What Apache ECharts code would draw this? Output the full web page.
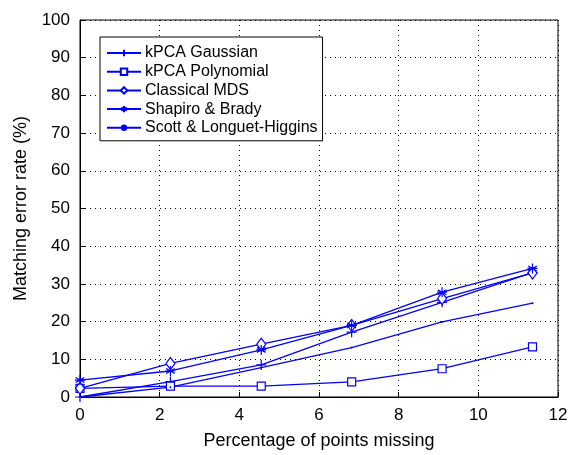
<!DOCTYPE html>
<html><head><meta charset="utf-8">
<script src="https://cdn.jsdelivr.net/npm/echarts@6/dist/echarts.min.js"></script>
<style>html,body{margin:0;padding:0;background:#fff}#c{width:571px;height:455px}</style>
</head><body><div id="c"></div>
<script>
const xValues = [0, 2.27, 4.55, 6.82, 9.09, 11.36];
const kpcaGaussian = [0, 4.1, 8.5, 17.2, 25.1, 33.0];
const kpcaPolynomial = [2.3, 2.9, 2.9, 4.0, 7.5, 13.3];
const classicalMDS = [2.3, 8.9, 14.0, 19.0, 26.1, 32.9];
const shapiroBrady = [4.5, 6.9, 12.5, 19.0, 27.8, 34.1];
const scottLH = [0, 2.6, 7.8, 13.1, 19.9, 24.9];
const seriesNames = ['kPCA Gaussian','kPCA Polynomial','Classical MDS','Shapiro & Brady','Scott & Longuet-Higgins'];

const blue = '#0000ff';
const font = '"Liberation Sans", Arial, Helvetica, sans-serif';
function pts(ys){ return xValues.map((x,i)=>[x, ys[i]]); }
function mk(name, ys, symbol, size){
  return {
    name, type:'line', data: pts(ys), symbol, symbolSize: size, showSymbol:true,
    lineStyle:{color:blue, width:1.3}, itemStyle:{color:'#fff', borderColor:blue, borderWidth:1.2},
    emphasis:{disabled:true}, animation:false
  };
}
const chart = echarts.init(document.getElementById('c'));
chart.setOption({
  animation:false,
  grid:{left:80, right:13, top:20, bottom:58, show:true, borderColor:'#000', borderWidth:1, backgroundColor:'transparent'},
  legend:{
    orient:'vertical', left:100, top:37, padding:[8,5,5,6], itemGap:2.7, itemWidth:34, itemHeight:8,
    borderColor:'#000', borderWidth:1, backgroundColor:'#fff',
    textStyle:{fontFamily:font, fontSize:16, color:'#000', padding:[0,0,0,-1]},
    data: seriesNames
  },
  xAxis:{
    type:'value', min:0, max:12, interval:2,
    name:'Percentage of points missing', nameLocation:'middle', nameGap:35,
    nameTextStyle:{fontFamily:font, fontSize:18, color:'#000'},
    axisLine:{lineStyle:{color:'#000'}}, axisTick:{inside:true, length:5, lineStyle:{color:'#000'}},
    axisLabel:{fontFamily:font, fontSize:17, color:'#000', margin:10},
    splitLine:{show:true, lineStyle:{color:'#000', type:[1,4], width:1}}
  },
  yAxis:{
    type:'value', min:0, max:100, interval:10,
    name:'Matching error rate (%)', nameLocation:'middle', nameGap:50,
    nameTextStyle:{fontFamily:font, fontSize:18, color:'#000'},
    axisLine:{show:true, lineStyle:{color:'#000'}}, axisTick:{show:true, inside:true, length:5, lineStyle:{color:'#000'}},
    axisLabel:{fontFamily:font, fontSize:17, color:'#000', margin:10},
    splitLine:{show:true, lineStyle:{color:'#000', type:[1,4], width:1}}
  },
  series:[
    mk(seriesNames[0], kpcaGaussian, 'path://M0,-1L0,1M-1,0L1,0', 10),
    mk(seriesNames[1], kpcaPolynomial, 'rect', 8),
    mk(seriesNames[2], classicalMDS, 'diamond', [9,12]),
    mk(seriesNames[3], shapiroBrady, 'path://M0,-1L0,1M-0.87,-0.5L0.87,0.5M-0.87,0.5L0.87,-0.5M-1,0L1,0', 10),
    Object.assign(mk(seriesNames[4], scottLH, 'circle', 2), {itemStyle:{color:blue, borderColor:blue, borderWidth:0}})
  ]
});
</script></body></html>
